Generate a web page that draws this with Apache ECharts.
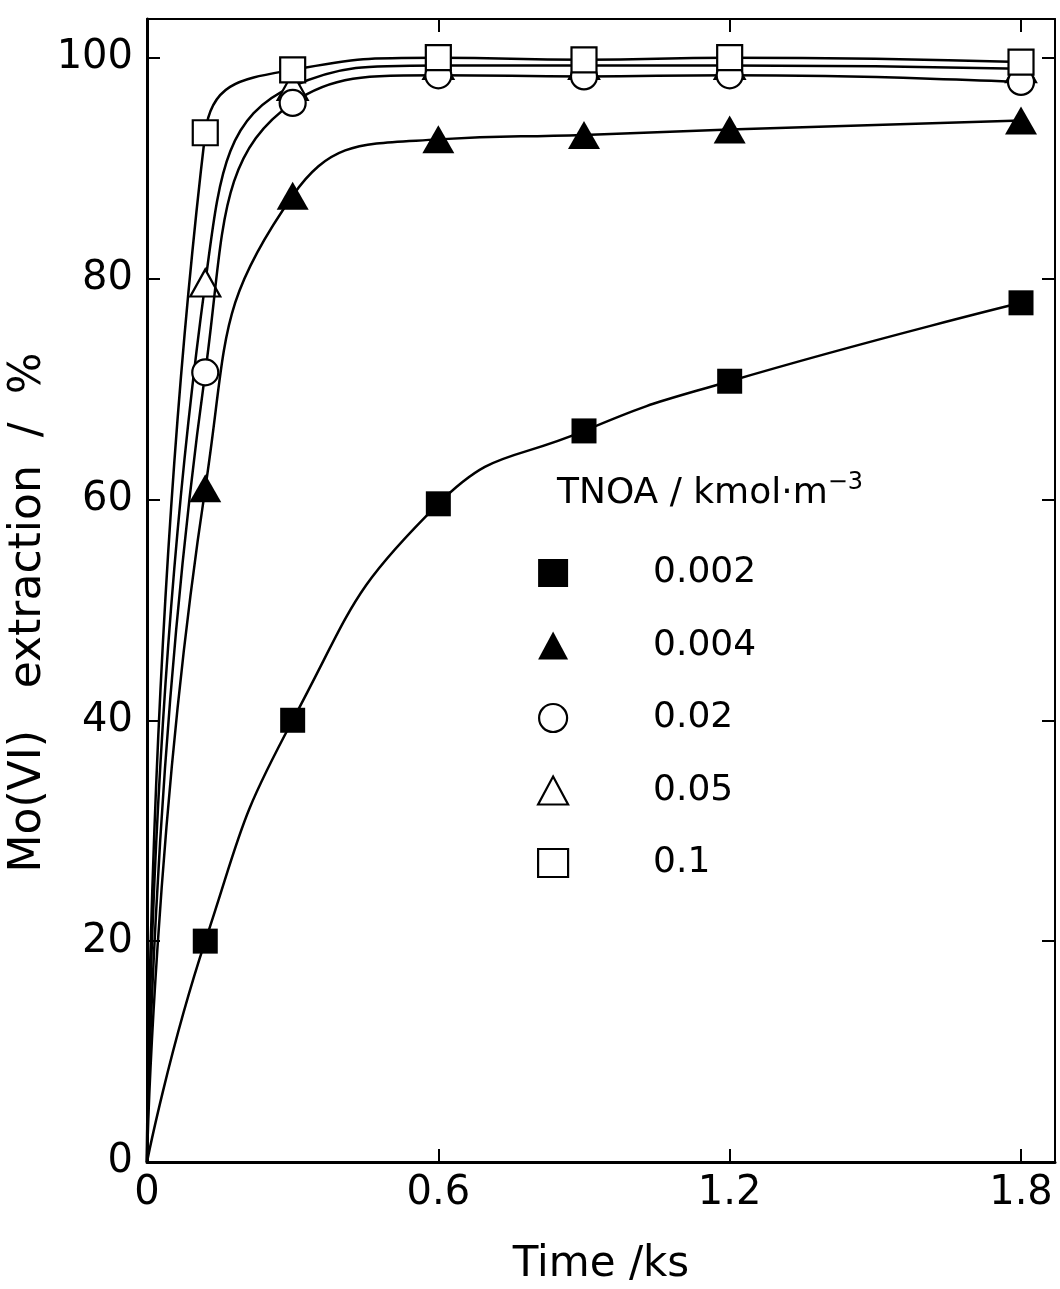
<!DOCTYPE html>
<html>
<head>
<meta charset="utf-8">
<title>Mo(VI) extraction</title>
<script src="https://cdn.jsdelivr.net/npm/echarts@6/dist/echarts.min.js"></script>
<style>
  html, body { margin: 0; padding: 0; background: #fff; }
  #main { width: 1060px; height: 1289px; }
</style>
</head>
<body>
<div id="main"></div>
<script>
// 数据 (时间 ks, 萃取率 %)
var times = [0, 0.12, 0.3, 0.6, 0.9, 1.2, 1.8];
var names = ['0.002', '0.004', '0.02', '0.05', '0.1'];
var tnoa002 = [0, 20, 40, 59.6, 66.2, 70.7, 77.8];
var tnoa004 = [0, 61, 87.5, 92.6, 93, 93.5, 94.3];
var tnoa02 = [0, 71.5, 95.9, 98.4, 98.3, 98.4, 97.8];
var tnoa05 = [0, 79.6, 97.4, 99.3, 99.3, 99.3, 99];
var tnoa1 = [0, 93.2, 98.9, 100, 99.8, 100, 99.6];
var xLabels = [0, 0.6, 1.2, 1.8];
var yLabels = [0, 20, 40, 60, 80, 100];

var FONT = "'DejaVu Sans', sans-serif";

function pts(ys) {
    return times.map(function (t, i) {
        if (t === 0) return { value: [t, ys[i]], symbol: 'none' };
        return [t, ys[i]];
    });
}

function mkSeries(name, ys, symbol, size, filled, z) {
    return {
        name: name,
        type: 'line',
        data: pts(ys),
        smooth: 0.5,
        symbol: symbol,
        symbolSize: size,
        showAllSymbol: true,
        z: z,
        lineStyle: { color: '#000', width: 2.5 },
        itemStyle: filled
            ? { color: '#000', borderColor: '#000', borderWidth: 0 }
            : { color: '#fff', borderColor: '#000', borderWidth: 2.2 },
        emphasis: { disabled: true }
    };
}

var myChart = echarts.init(document.getElementById('main'));

var option = {
    backgroundColor: '#fff',
    animation: false,
    textStyle: { fontFamily: FONT, color: '#000' },
    grid: {
        left: 147, right: 5, top: 19, bottom: 127,
        containLabel: false,
        outerBoundsMode: 'none'
    },
    title: {
        text: 'TNOA / kmol·m{sup|−3}',
        left: 552,
        top: 466,
        textStyle: {
            fontFamily: FONT,
            fontSize: 36,
            fontWeight: 'normal',
            color: '#000',
            rich: {
                sup: { fontFamily: FONT, fontSize: 24, color: '#000', padding: [0, 0, 22, 0] }
            }
        }
    },
    legend: {
        orient: 'vertical',
        left: 532,
        top: 550,
        itemWidth: 30,
        itemHeight: 28,
        itemGap: 36.5,
        selectedMode: false,
        textStyle: {
            fontFamily: FONT,
            fontSize: 36,
            lineHeight: 36,
            color: '#000',
            padding: [0, 0, 0, 80]
        },
        data: [
            { name: names[0], icon: 'rect', itemStyle: { color: '#000', borderWidth: 0 } },
            { name: names[1], icon: 'triangle', itemStyle: { color: '#000', borderWidth: 0 } },
            { name: names[2], icon: 'circle', itemStyle: { color: '#fff', borderColor: '#000', borderWidth: 2.2 } },
            { name: names[3], icon: 'triangle', itemStyle: { color: '#fff', borderColor: '#000', borderWidth: 2.2 } },
            { name: names[4], icon: 'rect', itemStyle: { color: '#fff', borderColor: '#000', borderWidth: 2.2 } }
        ]
    },
    xAxis: [
        {
            type: 'value',
            position: 'bottom',
            min: 0,
            max: 1.87,
            name: 'Time /ks',
            nameLocation: 'middle',
            nameGap: 82,
            nameTextStyle: { fontFamily: FONT, fontSize: 42, color: '#000', verticalAlign: 'top' },
            axisLine: { show: true, onZero: false, lineStyle: { color: '#000', width: 3 } },
            axisTick: { show: true, inside: true, length: 13, customValues: [0.6, 1.2, 1.8], lineStyle: { color: '#000', width: 2 } },
            axisLabel: {
                show: true,
                margin: 12,
                customValues: xLabels,
                fontFamily: FONT,
                fontSize: 40,
                color: '#000',
                formatter: function (v) { return v === 0 ? '0' : v.toFixed(1); }
            },
            splitLine: { show: false }
        },
        {
            type: 'value',
            position: 'top',
            min: 0,
            max: 1.87,
            axisLine: { show: true, onZero: false, lineStyle: { color: '#000', width: 2 } },
            axisTick: { show: true, inside: true, length: 13, customValues: [0.6, 1.2, 1.8], lineStyle: { color: '#000', width: 2 } },
            axisLabel: { show: false },
            splitLine: { show: false }
        }
    ],
    yAxis: [
        {
            type: 'value',
            position: 'left',
            min: 0,
            max: 103.5,
            name: 'Mo(VI)   extraction  /  %',
            nameLocation: 'middle',
            nameGap: 96,
            nameRotate: 90,
            nameMoveOverlap: false,
            nameTextStyle: { fontFamily: FONT, fontSize: 44, color: '#000', padding: [0, 44, 0, 0] },
            axisLine: { show: true, onZero: false, lineStyle: { color: '#000', width: 3 } },
            axisTick: { show: true, inside: true, length: 13, customValues: [20, 40, 60, 80, 100], lineStyle: { color: '#000', width: 2 } },
            axisLabel: {
                show: true,
                margin: 14,
                customValues: yLabels,
                fontFamily: FONT,
                fontSize: 40,
                color: '#000'
            },
            splitLine: { show: false }
        },
        {
            type: 'value',
            position: 'right',
            min: 0,
            max: 103.5,
            axisLine: { show: true, onZero: false, lineStyle: { color: '#000', width: 2 } },
            axisTick: { show: true, inside: true, length: 13, customValues: [20, 40, 60, 80, 100], lineStyle: { color: '#000', width: 2 } },
            axisLabel: { show: false },
            splitLine: { show: false }
        }
    ],
    series: [
        mkSeries(names[0], tnoa002, 'rect', 25, true, 5),
        mkSeries(names[1], tnoa004, 'triangle', [32, 28], true, 5),
        mkSeries(names[2], tnoa02, 'circle', 26, false, 4),
        mkSeries(names[3], tnoa05, 'triangle', [30, 27], false, 3),
        mkSeries(names[4], tnoa1, 'rect', 25, false, 6)
    ]
};

myChart.setOption(option);
</script>
</body>
</html>
